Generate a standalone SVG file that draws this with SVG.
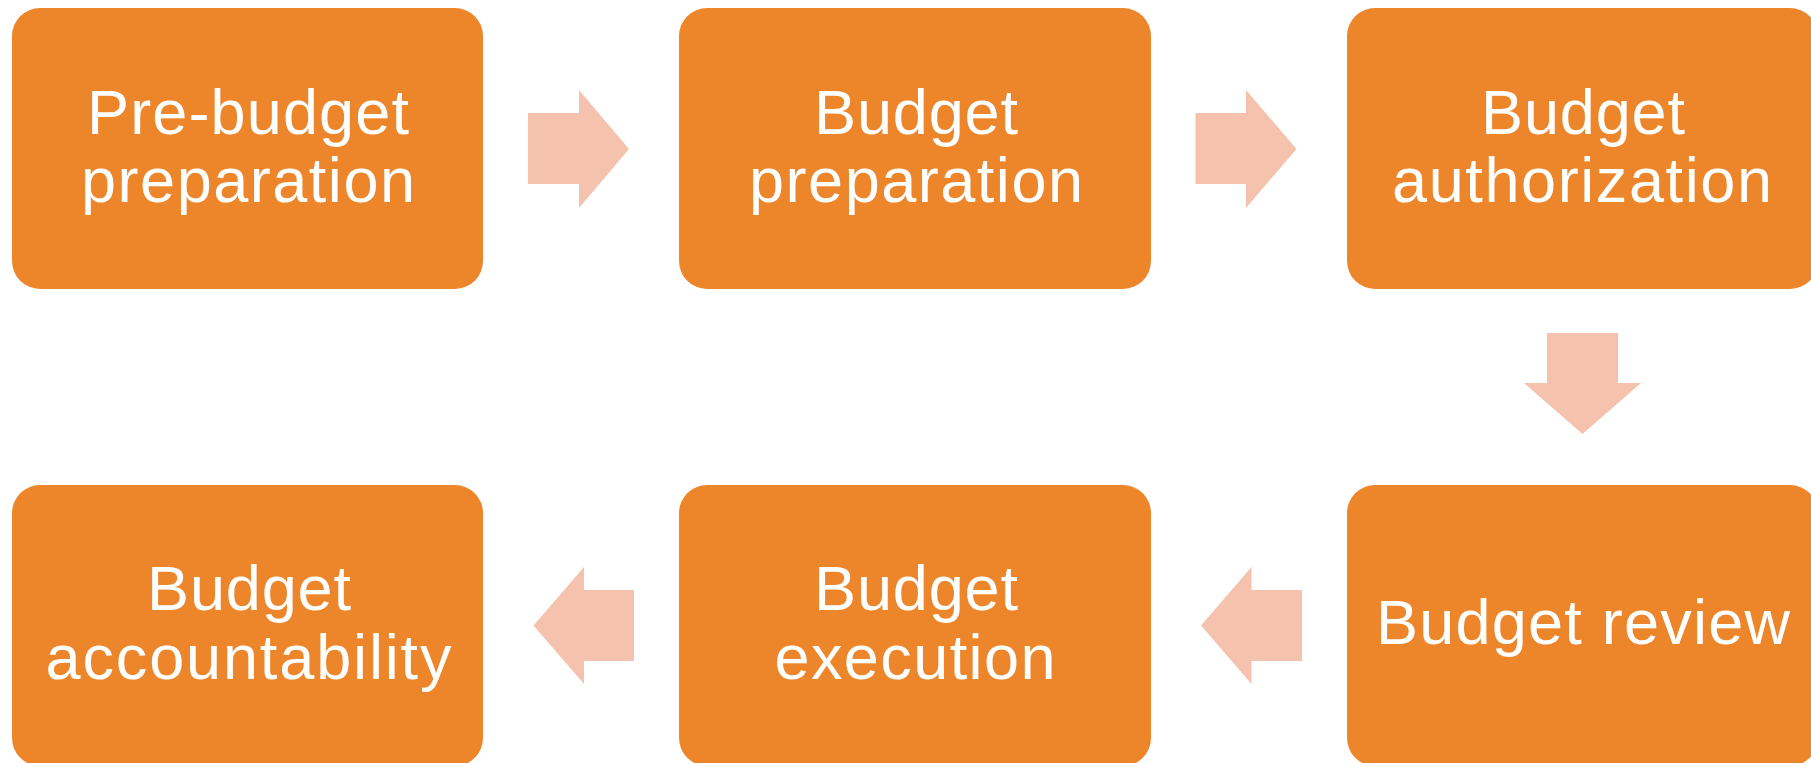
<svg xmlns="http://www.w3.org/2000/svg" width="1811" height="763" viewBox="0 0 1811 763">
<style>
.box{fill:#ED862A;}
.arr{fill:#F4C2AD;}
.lbl{font-family:"Liberation Sans",Arial,sans-serif;font-size:63px;fill:#FFFFFF;text-anchor:middle;}
</style>
<rect width="1811" height="763" fill="#FFFFFF"/>
<g id="connectors">
<polygon class="arr" points="528,113 579,113 579,90 629,149 579,208 579,184 528,184"/>
<polygon class="arr" points="1195.5,113 1246,113 1246,90 1296.5,149 1246,208 1246,184 1195.5,184"/>
<polygon class="arr" points="1547,333 1618,333 1618,383 1641,383 1582.5,434 1524,383 1547,383"/>
<polygon class="arr" points="1302,590 1251.5,590 1251.5,567 1201,625.5 1251.5,684 1251.5,661 1302,661"/>
<polygon class="arr" points="634,590 584,590 584,567 533.5,625.5 584,684 584,661 634,661"/>
</g>
<g id="node1">
<rect class="box" x="12" y="8" width="471" height="281" rx="28" ry="28"/>
<text class="lbl" x="248" y="134" textLength="322" lengthAdjust="spacing">Pre-budget</text>
<text class="lbl" x="248" y="202" textLength="334" lengthAdjust="spacing">preparation</text>
</g>
<g id="node2">
<rect class="box" x="679" y="8" width="472" height="281" rx="28" ry="28"/>
<text class="lbl" x="916" y="134" textLength="204" lengthAdjust="spacing">Budget</text>
<text class="lbl" x="916" y="202" textLength="334" lengthAdjust="spacing">preparation</text>
</g>
<g id="node3">
<rect class="box" x="1347" y="8" width="471" height="281" rx="28" ry="28"/>
<text class="lbl" x="1583" y="134" textLength="204" lengthAdjust="spacing">Budget</text>
<text class="lbl" x="1582" y="202" textLength="380" lengthAdjust="spacing">authorization</text>
</g>
<g id="node4">
<rect class="box" x="1347" y="485" width="471" height="281" rx="28" ry="28"/>
<text class="lbl" x="1583" y="644" textLength="414" lengthAdjust="spacing">Budget review</text>
</g>
<g id="node5">
<rect class="box" x="679" y="485" width="472" height="281" rx="28" ry="28"/>
<text class="lbl" x="916" y="610" textLength="204" lengthAdjust="spacing">Budget</text>
<text class="lbl" x="915" y="679" textLength="281" lengthAdjust="spacing">execution</text>
</g>
<g id="node6">
<rect class="box" x="12" y="485" width="471" height="281" rx="28" ry="28"/>
<text class="lbl" x="249" y="610" textLength="204" lengthAdjust="spacing">Budget</text>
<text class="lbl" x="248.5" y="679" textLength="406" lengthAdjust="spacing">accountability</text>
</g>
</svg>
